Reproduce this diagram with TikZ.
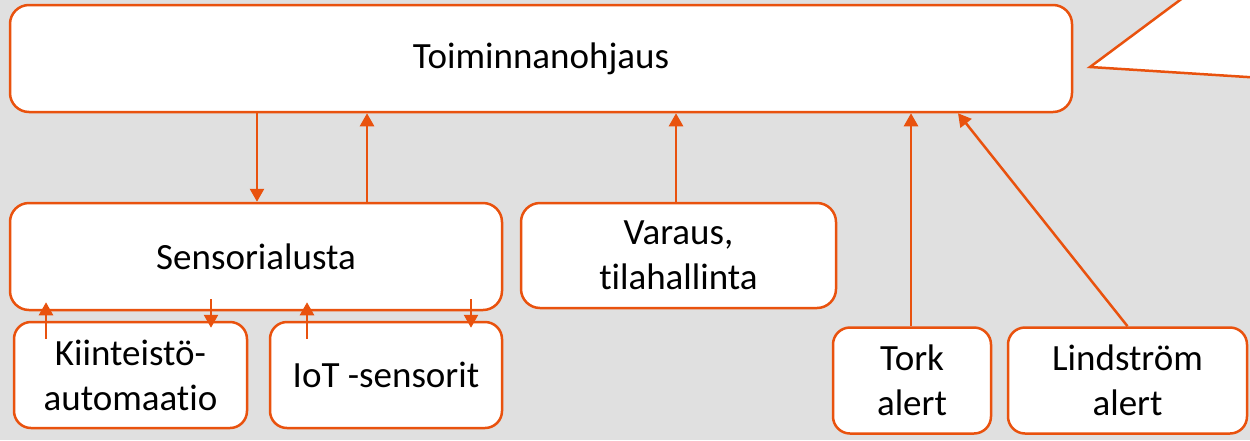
\documentclass[tikz,border=0pt]{standalone}
\usepackage{fontspec}
\setmainfont{Carlito}[Ligatures=NoCommon]
\usetikzlibrary{arrows.meta,calc}
\definecolor{org}{RGB}{233,82,14}
\definecolor{bg}{RGB}{224,224,224}
\tikzset{
  box/.style={draw=org, line width=2.5pt, fill=white, rounded corners=19pt, inner sep=0pt, align=center, font=\fontsize{37}{45}\selectfont},
  arr/.style={draw=org, line width=2.5pt, -{Triangle[length=13pt,width=14pt]}}
}
\begin{document}
\begin{tikzpicture}[x=1pt,y=-1pt]
\useasboundingbox (0,0) rectangle (1250,440);
\clip (0,0) rectangle (1250,440);
\fill[bg] (0,0) rectangle (1250,440);
% callout
\fill[white] (1180,0) -- (1090,67) -- (1250,77) -- (1260,77) -- (1260,-5) -- (1180,-5) -- cycle;
\draw[org, line width=2.5pt] (1185,-3.7) -- (1090,67) -- (1255,77.5);
% boxes
\node[box, minimum width=1062, minimum height=107] (toim) at (541,58.5) {Toiminnanohjaus};
\node[box, minimum width=492, minimum height=107] (sens) at (256,256.5) {Sensorialusta};
\node[box, minimum width=315, minimum height=105] (var) at (678.5,255.5) {Varaus,\\tilahallinta};
\node[box, minimum width=233, minimum height=106, rounded corners=17pt] (kiin) at (130.5,375) {Kiinteistö-\\automaatio};
\node[box, minimum width=232, minimum height=106, rounded corners=17pt] (iot) at (386,375) {IoT -sensorit};
\node[box, minimum width=158, minimum height=106, rounded corners=17pt] (tork) at (912,380.5) {Tork\\alert};
\node[box, minimum width=239, minimum height=106, rounded corners=17pt] (lind) at (1127.5,380.5) {Lindström\\alert};
% arrows
\draw[arr] (toim.south -| 257,0) -- (sens.north -| 257,0);
\draw[arr] (sens.north -| 367,0) -- (toim.south -| 367,0);
\draw[arr] (var.north -| 676,0) -- (toim.south -| 676,0);
\draw[arr] (tork.north -| 911,0) -- (toim.south -| 911,0);
\draw[arr] (lind.north) -- (toim.south -| 958,0);
\draw[arr] ($(kiin.north -| 46,0)+(0,18)$) -- ($(sens.south -| 46,0)+(0,-9)$);
\draw[arr] ($(sens.south -| 211,0)+(0,-12)$) -- ($(kiin.north -| 211,0)+(0,7)$);
\draw[arr] ($(iot.north -| 307,0)+(0,18)$) -- ($(sens.south -| 307,0)+(0,-9)$);
\draw[arr] ($(sens.south -| 471,0)+(0,-12)$) -- ($(iot.north -| 471,0)+(0,7)$);
\end{tikzpicture}
\end{document}
